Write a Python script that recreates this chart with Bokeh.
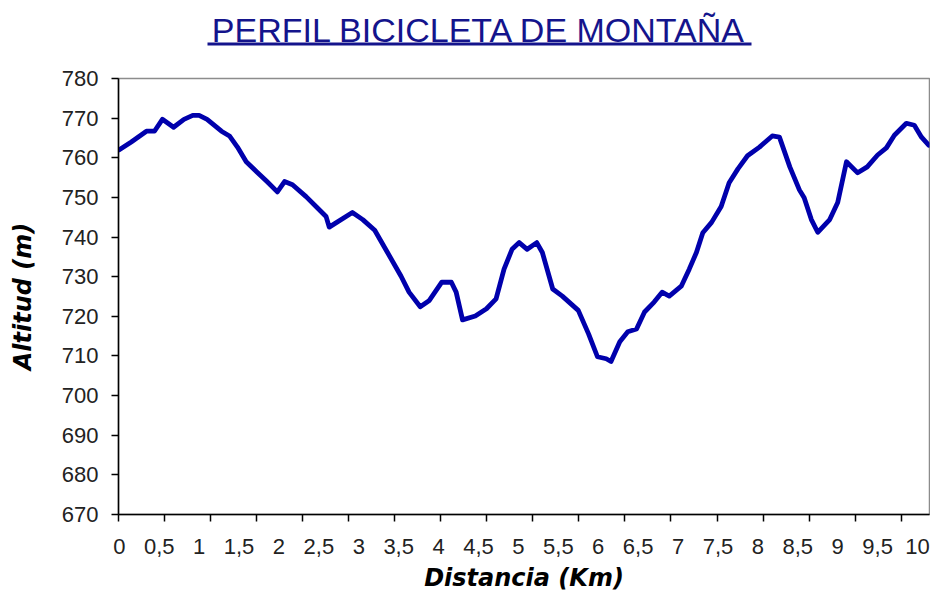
import numpy as np
from bokeh.plotting import figure
from bokeh.layouts import column
from bokeh.models import Range1d, FixedTicker
from bokeh.core.properties import value
from bokeh.embed import file_html
from bokeh.resources import INLINE

# ---- data ----
distance_km = [0.00, 0.15, 0.34, 0.44, 0.54, 0.68, 0.81, 0.92, 1.00, 1.10,
               1.28, 1.38, 1.48, 1.59, 1.72, 1.85, 1.98, 2.07, 2.17, 2.34,
               2.48, 2.59, 2.63, 2.92, 3.05, 3.20, 3.36, 3.53, 3.63, 3.77,
               3.88, 4.04, 4.16, 4.22, 4.30, 4.46, 4.60, 4.72, 4.82, 4.92,
               5.01, 5.11, 5.23, 5.30, 5.43, 5.55, 5.75, 5.88, 5.99, 6.10,
               6.16, 6.27, 6.37, 6.48, 6.58, 6.70, 6.80, 6.89, 7.04, 7.14,
               7.23, 7.31, 7.42, 7.54, 7.64, 7.75, 7.87, 8.02, 8.18, 8.27,
               8.40, 8.52, 8.58, 8.67, 8.75, 8.90, 9.00, 9.11, 9.25, 9.37,
               9.50, 9.61, 9.71, 9.86, 9.96, 10.05, 10.14]
altitude_m = [762.0, 764.0, 766.7, 766.7, 769.7, 767.7, 769.7, 770.7, 770.7, 769.7,
              766.7, 765.5, 762.7, 759.0, 756.5, 754.0, 751.4, 754.0, 753.2, 750.2,
              747.4, 745.2, 742.5, 746.2, 744.4, 741.7, 736.1, 730.1, 726.1, 722.4,
              723.9, 728.6, 728.6, 726.1, 719.1, 720.1, 721.9, 724.4, 731.9, 736.9,
              738.6, 736.9, 738.6, 736.1, 726.9, 725.1, 721.5, 715.5, 709.8, 709.3,
              708.6, 713.6, 716.1, 716.8, 721.1, 723.6, 726.1, 725.1, 727.6, 731.9,
              736.1, 741.1, 743.7, 747.7, 753.7, 757.2, 760.5, 762.7, 765.5, 765.2,
              757.7, 751.9, 749.9, 744.4, 741.2, 744.4, 748.7, 759.0, 756.2, 757.7,
              760.7, 762.5, 765.7, 768.7, 768.2, 765.2, 763.2]

x_ticks = [0, 0.5, 1, 1.5, 2, 2.5, 3, 3.5, 4, 4.5, 5, 5.5, 6, 6.5, 7, 7.5,
           8, 8.5, 9, 9.5, 10]
x_tick_labels = ["0", "0,5", "1", "1,5", "2", "2,5", "3", "3,5", "4", "4,5",
                 "5", "5,5", "6", "6,5", "7", "7,5", "8", "8,5", "9", "9,5", "10"]
y_ticks = [670, 680, 690, 700, 710, 720, 730, 740, 750, 760, 770, 780]

title_text = "PERFIL BICICLETA DE MONTAÑA"
x_label = "Distancia (Km)"
y_label = "Altitud (m)"

# ---- style ----
W = 930
LEFT, RIGHT = 118, 1
TITLE_H = 62
TITLE_COLOR = "#14148C"
TICK_STEP = 0.5767          # spacing of the axis tick marks (Excel category ticks)
tick_font = "Liberation Sans"
lab_font = "DejaVu Sans"

# ---- title strip (pixel-coordinate figure, same frame columns as the chart) ----
tf = figure(width=W, height=TITLE_H, output_backend="svg", toolbar_location=None,
            x_range=Range1d(LEFT, W - RIGHT), y_range=Range1d(TITLE_H, 0),
            min_border_left=LEFT, min_border_right=RIGHT,
            min_border_top=0, min_border_bottom=0)
tf.axis.visible = False
tf.grid.visible = False
tf.outline_line_color = None
tf.text(x=[479], y=[29], text=[title_text], text_align="center",
        text_baseline="middle", text_font=value(tick_font),
        text_font_size="34px", text_color=TITLE_COLOR)
tf.rect(x=[479], y=[43.5], width=[544], height=[3], fill_color=TITLE_COLOR,
        line_color=None)

# ---- main chart ----
p = figure(width=W, height=536, output_backend="svg", toolbar_location=None,
           x_range=Range1d(-0.01, 10.15), y_range=Range1d(670, 780),
           min_border_left=LEFT, min_border_right=RIGHT, min_border_top=16,
           min_border_bottom=84)

p.line(distance_km, altitude_m, line_color="#0000AC", line_width=4.8,
       line_join="round", line_cap="round")

p.xgrid.visible = False
p.ygrid.visible = False
p.outline_line_color = "#8C8C8C"
p.outline_line_width = 1.5

minor = list(np.arange(0, 10.15, TICK_STEP) - 0.009)
xa = p.xaxis[0]
xa.ticker = FixedTicker(ticks=x_ticks, minor_ticks=minor)
xa.major_label_overrides = dict(zip(x_ticks, x_tick_labels))
xa.major_tick_line_color = None
xa.major_tick_out = 7
xa.major_tick_in = 0
xa.minor_tick_line_color = "black"
xa.minor_tick_line_width = 1.5
xa.minor_tick_out = 7
xa.minor_tick_in = 0
xa.major_label_standoff = 17
xa.axis_label = x_label
xa.axis_label_standoff = 7

ya = p.yaxis[0]
ya.ticker = FixedTicker(ticks=y_ticks, minor_ticks=[])
ya.major_tick_line_color = "black"
ya.major_tick_line_width = 1.5
ya.major_tick_out = 7
ya.major_tick_in = 0
ya.minor_tick_line_color = None
ya.major_label_standoff = 13
ya.axis_label = y_label
ya.axis_label_standoff = 22

for ax in (xa, ya):
    ax.axis_line_color = "black"
    ax.axis_line_width = 1.5
    ax.major_label_text_font = tick_font
    ax.major_label_text_font_size = "22px"
    ax.major_label_text_color = "#222222"
    ax.axis_label_text_font = lab_font
    ax.axis_label_text_font_size = "24px"
    ax.axis_label_text_font_style = "bold italic"
    ax.axis_label_text_color = "black"

layout = column(tf, p, spacing=0)
open("out.html", "w").write(file_html(layout, INLINE))
